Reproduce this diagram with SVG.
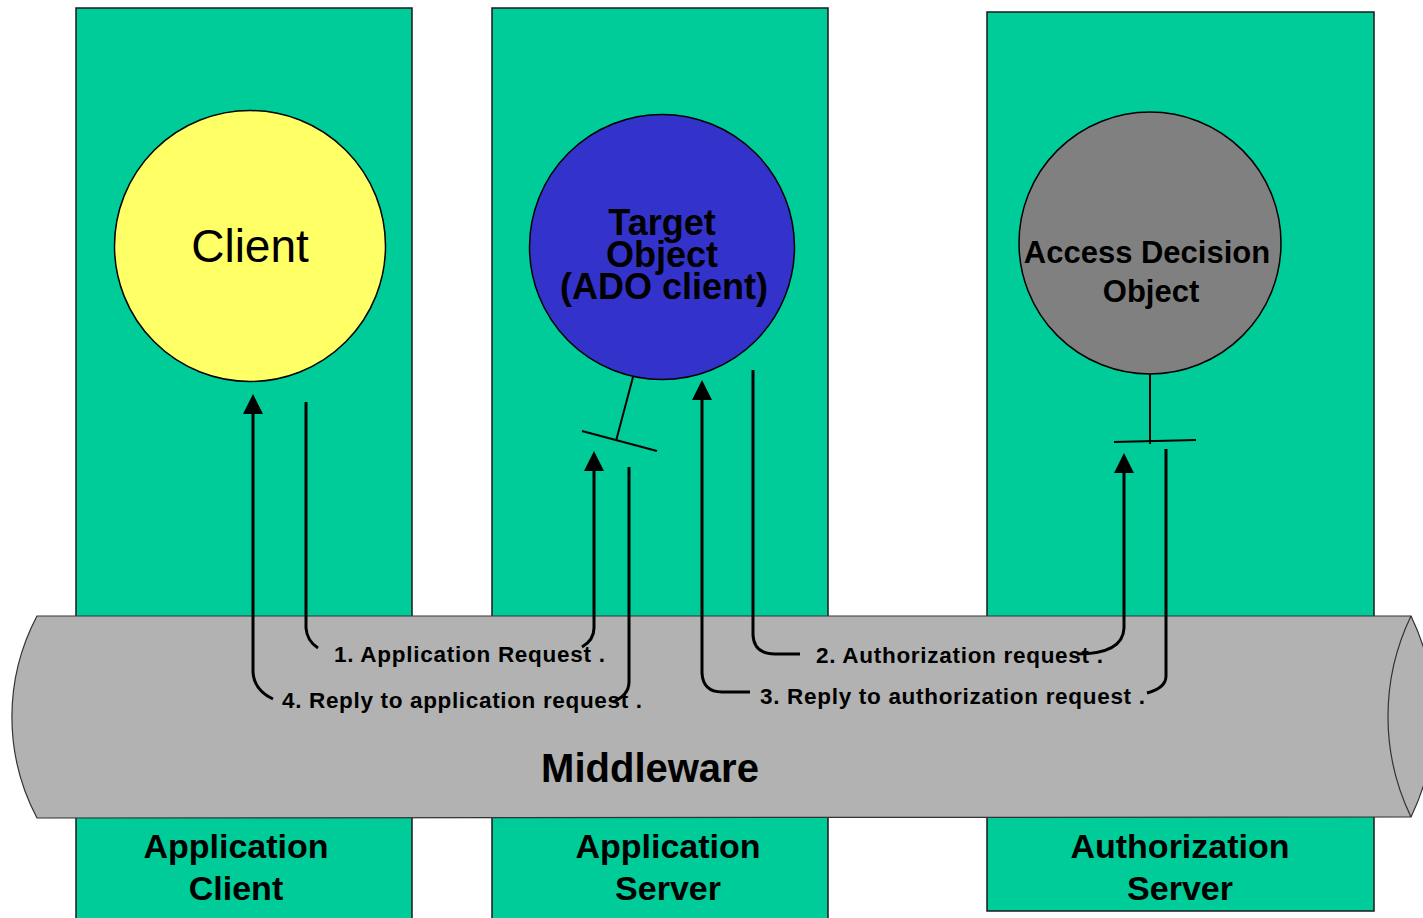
<svg xmlns="http://www.w3.org/2000/svg" width="1423" height="918" viewBox="0 0 1423 918">
  <style>
    .host { fill: #00CC99; stroke: #1a1a1a; stroke-width: 1.5; }
    .obj { stroke: #000; stroke-width: 1.5; }
    .pipe { fill: #B2B2B2; stroke: #333; stroke-width: 1.2; }
    .flow { fill: none; stroke: #000; stroke-width: 3; }
    .lolli { fill: none; stroke: #000; stroke-width: 2; }
    text { font-family: "Liberation Sans", Arial, sans-serif; fill: #000; text-anchor: middle; }
    .b { font-weight: bold; }
    .msg { font-size: 22.5px; font-weight: bold; text-anchor: start; }
    .host-label { font-size: 34px; font-weight: bold; }
  </style>
  <defs>
    <marker id="head" markerUnits="userSpaceOnUse" markerWidth="20" markerHeight="20" refX="0" refY="10" orient="auto">
      <path d="M0,0 L20,10 L0,20 Z" fill="#000"/>
    </marker>
  </defs>

  <rect width="1423" height="918" fill="#fff"/>

  <!-- host columns -->
  <g id="app-client">
    <rect class="host" x="76" y="8" width="336" height="915"/>
    <text class="host-label" x="236" y="858">Application</text>
    <text class="host-label" x="236" y="900">Client</text>
  </g>
  <g id="app-server">
    <rect class="host" x="492" y="8" width="336" height="915"/>
    <text class="host-label" x="668" y="858">Application</text>
    <text class="host-label" x="668" y="900">Server</text>
  </g>
  <g id="auth-server">
    <rect class="host" x="987" y="12" width="387" height="899"/>
    <text class="host-label" x="1180" y="858">Authorization</text>
    <text class="host-label" x="1180" y="900">Server</text>
  </g>

  <!-- middleware pipe -->
  <g id="middleware">
    <path class="pipe" d="M37,616 L1411,616 A231,231 0 0 1 1411,817 L37,818 A216,216 0 0 1 37,616 Z"/>
    <path class="pipe" fill="none" d="M1411,616 A231,231 0 0 0 1411,817"/>
    <text class="b" x="650" y="782" font-size="40">Middleware</text>
  </g>

  <!-- objects -->
  <g id="client">
    <circle class="obj" cx="250" cy="246" r="135.5" fill="#FFFF66"/>
    <text x="250" y="262" font-size="46">Client</text>
  </g>
  <g id="target-object">
    <circle class="obj" cx="662" cy="247" r="132.5" fill="#3333CC"/>
    <text class="b" font-size="36" x="662" y="235">Target</text>
    <text class="b" font-size="36" x="662" y="267">Object</text>
    <text class="b" font-size="36" x="664" y="299">(ADO client)</text>
    <path class="lolli" d="M633,377 L616,441 M582,431 L657,451"/>
  </g>
  <g id="access-decision-object">
    <circle class="obj" cx="1150" cy="243" r="131" fill="#808080"/>
    <text class="b" font-size="31" x="1147" y="263">Access Decision</text>
    <text class="b" font-size="31" x="1151" y="302">Object</text>
    <path class="lolli" d="M1150,374 L1150,444 M1114,442 L1196,440"/>
  </g>

  <!-- message flows -->
  <g id="connectors">
    <path class="flow" d="M306,402 L306,628 Q307,641 318,648"/>
    <path class="flow" marker-end="url(#head)" d="M582,647 Q594,640 594,628 L594,471"/>

    <path class="flow" marker-end="url(#head)" d="M273,699 Q254,690 253,672 L253,414"/>
    <path class="flow" d="M629,467 L629,682 Q629,695 613,702"/>

    <path class="flow" d="M753,370 L753,635 Q754,654 775,654 L800,654"/>
    <path class="flow" marker-end="url(#head)" d="M1077,654 Q1123,654 1124,628 L1124,473"/>

    <path class="flow" marker-end="url(#head)" d="M750,692 L722,692 Q703,692 702,673 L702,400"/>
    <path class="flow" d="M1166,449 L1166,676 Q1166,688 1147,693"/>
  </g>

  <g id="messages">
    <text class="msg" x="334" y="662" textLength="271" lengthAdjust="spacing">1. Application Request .</text>
    <text class="msg" x="816" y="663" textLength="287" lengthAdjust="spacing">2. Authorization request .</text>
    <text class="msg" x="760" y="704" textLength="385" lengthAdjust="spacing">3. Reply to authorization request .</text>
    <text class="msg" x="282" y="708" textLength="360" lengthAdjust="spacing">4. Reply to application request .</text>
  </g>
</svg>
